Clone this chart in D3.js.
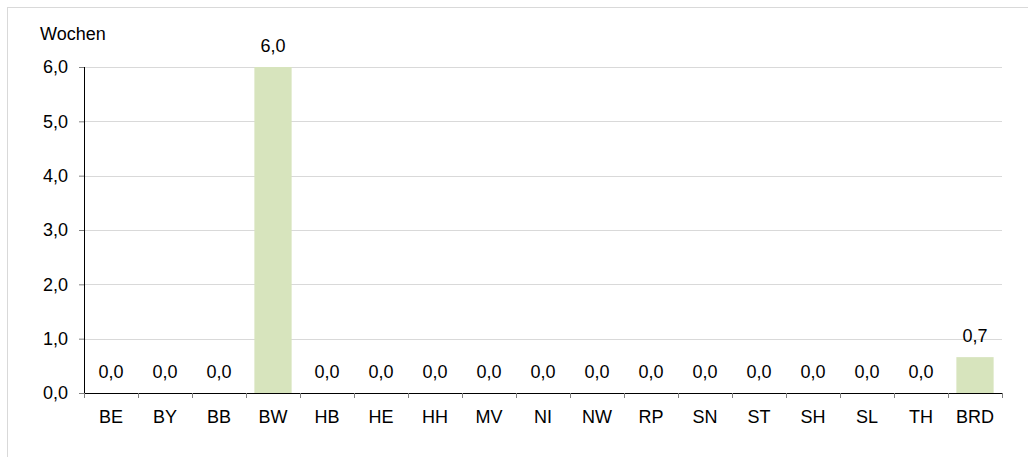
<!DOCTYPE html>
<html>
<head>
<meta charset="utf-8">
<script src="https://cdn.jsdelivr.net/npm/d3@7"></script>
<style>
  body { margin: 0; background: #fff; }
  svg text { font-family: "Liberation Sans", Arial, sans-serif; font-size: 18px; fill: #000; }
</style>
</head>
<body>
<div id="chart"></div>
<script>
'use strict';

var categories = ['BE', 'BY', 'BB', 'BW', 'HB', 'HE', 'HH', 'MV', 'NI', 'NW', 'RP', 'SN', 'ST', 'SH', 'SL', 'TH', 'BRD'];
var values = [0, 0, 0, 6.0, 0, 0, 0, 0, 0, 0, 0, 0, 0, 0, 0, 0, 0.66];
var yTicks = [0, 1, 2, 3, 4, 5, 6];
var unitLabel = 'Wochen';

var width = 1028;
var height = 457;
var margin = { top: 67, right: 26, bottom: 64, left: 84 };

var svg = d3.select('#chart')
    .append('svg')
    .attr('width', width)
    .attr('height', height);

// outer frame (runs off right and bottom like the original)
svg.append('rect')
    .attr('x', 7.5)
    .attr('y', 7.5)
    .attr('width', width)
    .attr('height', height)
    .attr('fill', 'none')
    .attr('stroke', '#d9d9d9');

var x = d3.scaleBand()
    .domain(categories)
    .range([margin.left, width - margin.right])
    .paddingInner(0.31)
    .paddingOuter(0.155);

var xOuter = d3.scaleBand()
    .domain(categories)
    .range([margin.left, width - margin.right]);

var y = d3.scaleLinear()
    .domain([0, 6])
    .range([height - margin.bottom, margin.top]);

var fmt = function(v) { return d3.format('.1f')(v).replace('.', ','); };

// gridlines
svg.append('g')
    .selectAll('line')
    .data(yTicks.filter(function(d) { return d > 0; }))
    .enter()
    .append('line')
    .attr('x1', margin.left)
    .attr('x2', width - margin.right)
    .attr('y1', function(d) { return Math.round(y(d)) + 0.5; })
    .attr('y2', function(d) { return Math.round(y(d)) + 0.5; })
    .attr('stroke', '#d9d9d9');

// bars
svg.append('g')
    .selectAll('rect')
    .data(values)
    .enter()
    .append('rect')
    .attr('x', function(d, i) { return x(categories[i]); })
    .attr('width', x.bandwidth())
    .attr('y', function(d) { return y(d); })
    .attr('height', function(d) { return y(0) - y(d); })
    .attr('fill', '#d7e4bd');

// value labels
svg.append('g')
    .selectAll('text')
    .data(values)
    .enter()
    .append('text')
    .attr('x', function(d, i) { return xOuter(categories[i]) + xOuter.bandwidth() / 2; })
    .attr('y', function(d) { return y(d) - 15; })
    .attr('text-anchor', 'middle')
    .text(function(d) { return fmt(d); });

// y axis
var yAxis = svg.append('g')
    .attr('transform', 'translate(' + margin.left + ',0)')
    .call(d3.axisLeft(y).tickValues(yTicks).tickFormat(fmt).tickSize(5).tickPadding(11));
yAxis.attr('font-size', null).attr('font-family', null);
yAxis.select('.domain').attr('stroke', '#000').attr('d', 'M0.5,' + y(6) + 'V' + (y(0) + 0.5));
yAxis.selectAll('.tick line').attr('stroke', '#7f7f7f');

// x axis
var xAxis = svg.append('g')
    .attr('transform', 'translate(0,' + y(0) + ')');
xAxis.append('line')
    .attr('x1', margin.left)
    .attr('x2', width - margin.right)
    .attr('y1', 0.5)
    .attr('y2', 0.5)
    .attr('stroke', '#000');
xAxis.selectAll('line.tk')
    .data(categories.concat(['end']))
    .enter()
    .append('line')
    .attr('class', 'tk')
    .attr('x1', function(d, i) { return Math.round(margin.left + i * xOuter.bandwidth()) + 0.5; })
    .attr('x2', function(d, i) { return Math.round(margin.left + i * xOuter.bandwidth()) + 0.5; })
    .attr('y1', 0)
    .attr('y2', 5)
    .attr('stroke', '#7f7f7f');
xAxis.selectAll('text')
    .data(categories)
    .enter()
    .append('text')
    .attr('x', function(d) { return xOuter(d) + xOuter.bandwidth() / 2; })
    .attr('y', 30)
    .attr('text-anchor', 'middle')
    .text(function(d) { return d; });

// unit label
svg.append('text')
    .attr('x', 40)
    .attr('y', 40)
    .text(unitLabel);
</script>
</body>
</html>
